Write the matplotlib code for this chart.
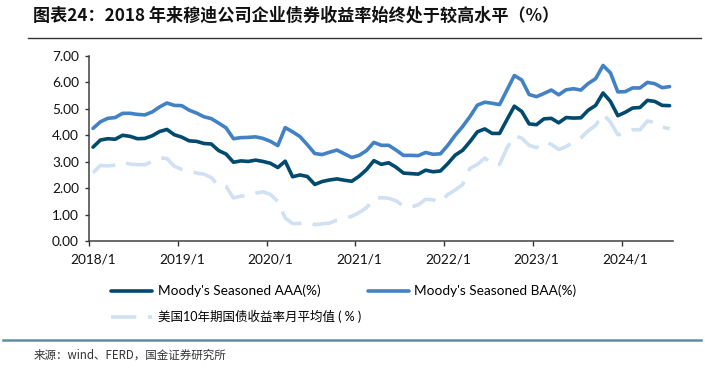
import numpy as np
import matplotlib
matplotlib.use("Agg")
import matplotlib.pyplot as plt
from matplotlib.lines import Line2D

# ---------------- data (monthly, 2018/1 - 2024/7) ----------------
years = list(range(2018, 2025))
tick_labels = [f"{y}/1" for y in years]

aaa = [3.55, 3.82, 3.87, 3.85, 4.00, 3.96, 3.87, 3.88, 3.98, 4.14, 4.22, 4.02,
       3.93, 3.79, 3.77, 3.69, 3.67, 3.42, 3.29, 2.98, 3.03, 3.01, 3.06, 3.01,
       2.94, 2.78, 3.02, 2.43, 2.50, 2.44, 2.14, 2.25, 2.31, 2.35, 2.30, 2.26,
       2.45, 2.70, 3.04, 2.90, 2.96, 2.79, 2.57, 2.55, 2.53, 2.68, 2.62, 2.65,
       2.93, 3.25, 3.43, 3.76, 4.13, 4.24, 4.07, 4.07, 4.59, 5.10, 4.90, 4.43,
       4.40, 4.62, 4.64, 4.47, 4.67, 4.65, 4.66, 4.95, 5.13, 5.60, 5.28, 4.74,
       4.87, 5.03, 5.05, 5.32, 5.28, 5.13, 5.12]

baa = [4.26, 4.51, 4.64, 4.67, 4.83, 4.83, 4.79, 4.77, 4.88, 5.07, 5.22, 5.13,
       5.12, 4.95, 4.84, 4.70, 4.63, 4.46, 4.28, 3.87, 3.91, 3.92, 3.94, 3.88,
       3.77, 3.61, 4.29, 4.13, 3.95, 3.64, 3.31, 3.27, 3.36, 3.44, 3.30, 3.16,
       3.24, 3.42, 3.73, 3.62, 3.62, 3.44, 3.24, 3.24, 3.23, 3.35, 3.28, 3.30,
       3.62, 4.00, 4.33, 4.71, 5.14, 5.25, 5.21, 5.16, 5.71, 6.26, 6.09, 5.54,
       5.46, 5.58, 5.71, 5.53, 5.72, 5.76, 5.71, 5.96, 6.14, 6.64, 6.36, 5.64,
       5.65, 5.79, 5.79, 6.00, 5.95, 5.80, 5.84]

ust10 = [2.58, 2.86, 2.84, 2.87, 2.98, 2.91, 2.89, 2.89, 3.00, 3.15, 3.12, 2.83,
         2.71, 2.68, 2.57, 2.53, 2.40, 2.07, 2.06, 1.63, 1.70, 1.71, 1.81, 1.86,
         1.76, 1.50, 0.87, 0.66, 0.67, 0.73, 0.62, 0.65, 0.68, 0.79, 0.87, 0.93,
         1.08, 1.26, 1.61, 1.64, 1.62, 1.52, 1.32, 1.28, 1.37, 1.58, 1.56, 1.47,
         1.76, 1.93, 2.13, 2.75, 2.90, 3.14, 2.90, 2.90, 3.52, 3.98, 3.89, 3.62,
         3.53, 3.75, 3.66, 3.46, 3.57, 3.75, 3.90, 4.17, 4.38, 4.80, 4.50, 4.02,
         4.06, 4.21, 4.21, 4.54, 4.48, 4.31, 4.25]

labels = ["Moody's Seasoned AAA(%)", "Moody's Seasoned BAA(%)",
          "美国10年期国债收益率月平均值 ( % )"]

title = "图表24：2018 年来穆迪公司企业债券收益率始终处于较高水平（%）"
source = "来源：wind、FERD，国金证券研究所"

# ---------------- styling ----------------
C_AAA = "#004a6e"
C_BAA = "#4282c4"
C_UST = "#cfe1f3"
LATIN = ["Lato", "Noto Sans CJK SC"]
CJK = ["Noto Sans CJK SC", "DejaVu Sans"]

plt.rcParams["font.family"] = LATIN

fig = plt.figure(figsize=(7.05, 3.68), dpi=100)
ax = fig.add_axes([0.1267, 0.345, 0.955 - 0.1267, 0.848 - 0.345])

n = len(aaa)
x = np.arange(n)
lw = 2.6
l1, = ax.plot(x, aaa, color=C_AAA, lw=lw, solid_joinstyle="round", solid_capstyle="round")
l2, = ax.plot(x, baa, color=C_BAA, lw=lw, solid_joinstyle="round", solid_capstyle="round")
l3, = ax.plot(x, ust10, color=C_UST, lw=lw, linestyle=(0, (7.0, 3.2)),
              dash_capstyle="butt")

ax.set_xlim(-0.5, n - 0.5)
ax.set_ylim(0, 7)
ax.set_yticks(np.arange(0, 8, 1))
ax.set_yticklabels([f"{v:.2f}" for v in np.arange(0, 8, 1)])

label_pos = [12 * i for i in range(len(tick_labels))]
ax.set_xticks(label_pos)
ax.set_xticklabels(tick_labels)
ax.set_xticks([p - 0.5 for p in label_pos], minor=True)
ax.tick_params(axis="x", which="major", length=0, pad=9, labelsize=9.8, colors="#111111")
ax.tick_params(axis="x", which="minor", length=3.5, width=1.0, color="#333333", direction="out")
ax.tick_params(axis="y", which="major", length=3, width=1.0, pad=4.5, labelsize=9.8,
               color="#333333", labelcolor="#111111", direction="out")

for s in ["top", "right"]:
    ax.spines[s].set_visible(False)
for s in ["left", "bottom"]:
    ax.spines[s].set_color("#404040")
    ax.spines[s].set_linewidth(1.1)

# legend (row-major ordering: AAA, BAA / UST)
leg = fig.legend([l1, l3, l2], [labels[0], labels[2], labels[1]], ncol=2,
                 loc="upper left", bbox_to_anchor=(0.158, 0.226),
                 frameon=False, prop={"family": LATIN, "size": 9.8},
                 handlelength=3.0, handletextpad=0.4, columnspacing=0.5,
                 labelspacing=0.95, borderaxespad=0, borderpad=0)
leg.get_texts()[1].set_fontsize(9.0)

# title and lines
fig.text(0.047, 0.957, title, family=CJK, fontsize=12.3, fontweight="bold",
         va="center", ha="left", color="#111111")
fig.add_artist(Line2D([0.04, 0.995], [0.897, 0.897], transform=fig.transFigure,
                      color="#333333", lw=1.0))
fig.add_artist(Line2D([0.004, 0.995], [0.076, 0.076], transform=fig.transFigure,
                      color="#5e8ea6", lw=1.8))
fig.text(0.047, 0.035, source, family=CJK, fontsize=8.3, va="center", ha="left",
         color="#333333")

fig.savefig("out.png", dpi=100)
